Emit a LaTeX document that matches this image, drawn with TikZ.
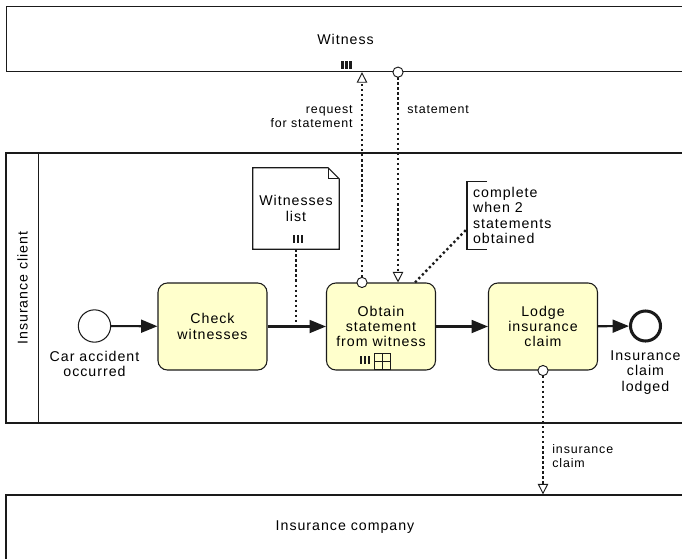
\documentclass[tikz,border=0pt]{standalone}
\usepackage{fontspec}
\setmainfont{Liberation Sans}[LetterSpace=7]
\definecolor{bpInk}{HTML}{1A1A1A}
\definecolor{bpTask}{HTML}{FFFFCC}
\usetikzlibrary{arrows.meta,positioning,calc}

\begin{document}
\begin{tikzpicture}[x=0.03cm,y=-0.03cm,
  font=\fontsize{12.1}{13}\selectfont,
  pool/.style={draw=bpInk,line width=1.1pt,minimum width=20.34cm,minimum height=1.95cm,inner sep=0pt},
  task/.style={draw=bpInk,fill=bpTask,line width=0.9pt,rounded corners=8pt,minimum width=3.27cm,
               minimum height=2.61cm,align=center,inner sep=2pt},
  startev/.style={circle,draw=bpInk,line width=0.9pt,minimum size=0.97cm,inner sep=0pt},
  endev/.style={circle,draw=bpInk,line width=2.6pt,minimum size=0.9cm,inner sep=0pt},
  evlabel/.style={align=center,inner sep=1pt},
  dataobj/.style={minimum width=2.58cm,minimum height=2.43cm,align=center,inner sep=0pt},
  note/.style={align=left,minimum height=2.01cm,inner xsep=5pt,inner ysep=0pt},
  subbox/.style={draw=bpInk,line width=0.7pt,minimum size=0.48cm,inner sep=0pt,
    path picture={\draw[bpInk,line width=0.7pt] (path picture bounding box.north) -- (path picture bounding box.south)
      (path picture bounding box.west) -- (path picture bounding box.east);}},
  msglabel/.style={font=\fontsize{10.6}{12}\selectfont,inner sep=1pt},
  seq/.style={draw=bpInk,line width=1.8pt,-{Triangle[length=14pt,width=11pt]}},
  msg/.style={draw=bpInk,line width=2pt,dash pattern=on 2pt off 2.3pt,
    {Circle[length=9.5pt,fill=white,line width=0.8pt]}-{Triangle[length=9pt,width=9pt,fill=white,line width=0.8pt]},
    shorten <=-4.75pt},
  assoc/.style={draw=bpInk,line width=2pt,dash pattern=on 2pt off 2.3pt},
  mibars/.pic={\foreach \d in {-4,0,4} \fill[bpInk] (\d-1.2,-4) rectangle (\d+1.2,4);}
]
\useasboundingbox (0,0) rectangle (682,558);
\clip (0,0) rectangle (682,558);

% pools
\node[pool] (witness) at (345.5,39) {Witness};
\pic at (346.5,64.5) {mibars};
\node[pool,minimum height=8.1cm] (client) at (345,288) {};
\draw[bpInk,line width=1.1pt] ([xshift=0.99cm]client.north west) -- ([xshift=0.99cm]client.south west);
\node[rotate=90] (clientlabel) at (22.5,288) {Insurance client};
\node[pool] (company) at (345,527.5) {Insurance company};

% process
\node[startev] (start) at (94.5,326) {};
\node[evlabel,below=6pt of start] (startlabel) {Car accident\\occurred};
\node[task] (check) at (212.5,326.5) {Check\\witnesses};
\node[task] (obtain) at (381,326.5) {Obtain\\statement\\from witness};
\pic at ($(obtain.south)+(-16,-11)$) {mibars};
\node[subbox] (obtainsub) at ($(obtain.south)+(1,-9)$) {};
\node[task] (lodge) at (543,326.5) {Lodge\\insurance\\claim};
\node[endev] (endev) at (645.5,326) {};
\node[evlabel,below=6pt of endev] (endlabel) {Insurance\\claim\\lodged};

% data object + annotation
\node[dataobj] (dlist) at (296,208.5) {Witnesses\\list};
\draw[bpInk,line width=0.9pt] (dlist.north west) -- ([xshift=-0.33cm]dlist.north east)
  -- ([yshift=-0.33cm]dlist.north east) -- (dlist.south east) -- (dlist.south west) -- cycle;
\draw[bpInk,line width=0.9pt] ([xshift=-0.33cm]dlist.north east) |- ([yshift=-0.33cm]dlist.north east);
\pic at ($(dlist.south)+(2,-10)$) {mibars};
\node[note,anchor=west] (note) at (467,215.5) {complete\\when 2\\statements\\obtained};
\draw[bpInk,line width=0.9pt] ([xshift=0.6cm]note.north west) -- (note.north west)
  -- (note.south west) -- ([xshift=0.6cm]note.south west);

% flows
\draw[seq] (start) -- (check);
\draw[seq] (check) -- (obtain);
\draw[seq] (obtain) -- (lodge);
\draw[seq] (lodge) -- (endev);
\draw[assoc] (dlist.south) -- (dlist.south |- check.east);
\draw[assoc] ([xshift=1.02cm]obtain.north) -- ([yshift=-0.4cm]note.west);
\draw[msg] ([xshift=-0.57cm]obtain.north) -- node[msglabel,pos=0.79,left=6pt,align=right]{request\\for statement}
  ([xshift=-0.57cm]obtain.north |- witness.south);
\draw[msg] ([xshift=0.51cm]obtain.north |- witness.south) -- node[msglabel,pos=0.18,right=6pt]{statement}
  ([xshift=0.51cm]obtain.north);
\draw[msg] (lodge.south) -- node[msglabel,pos=0.69,right=6pt,align=left]{insurance\\claim} (lodge.south |- company.north);
\end{tikzpicture}
\end{document}
